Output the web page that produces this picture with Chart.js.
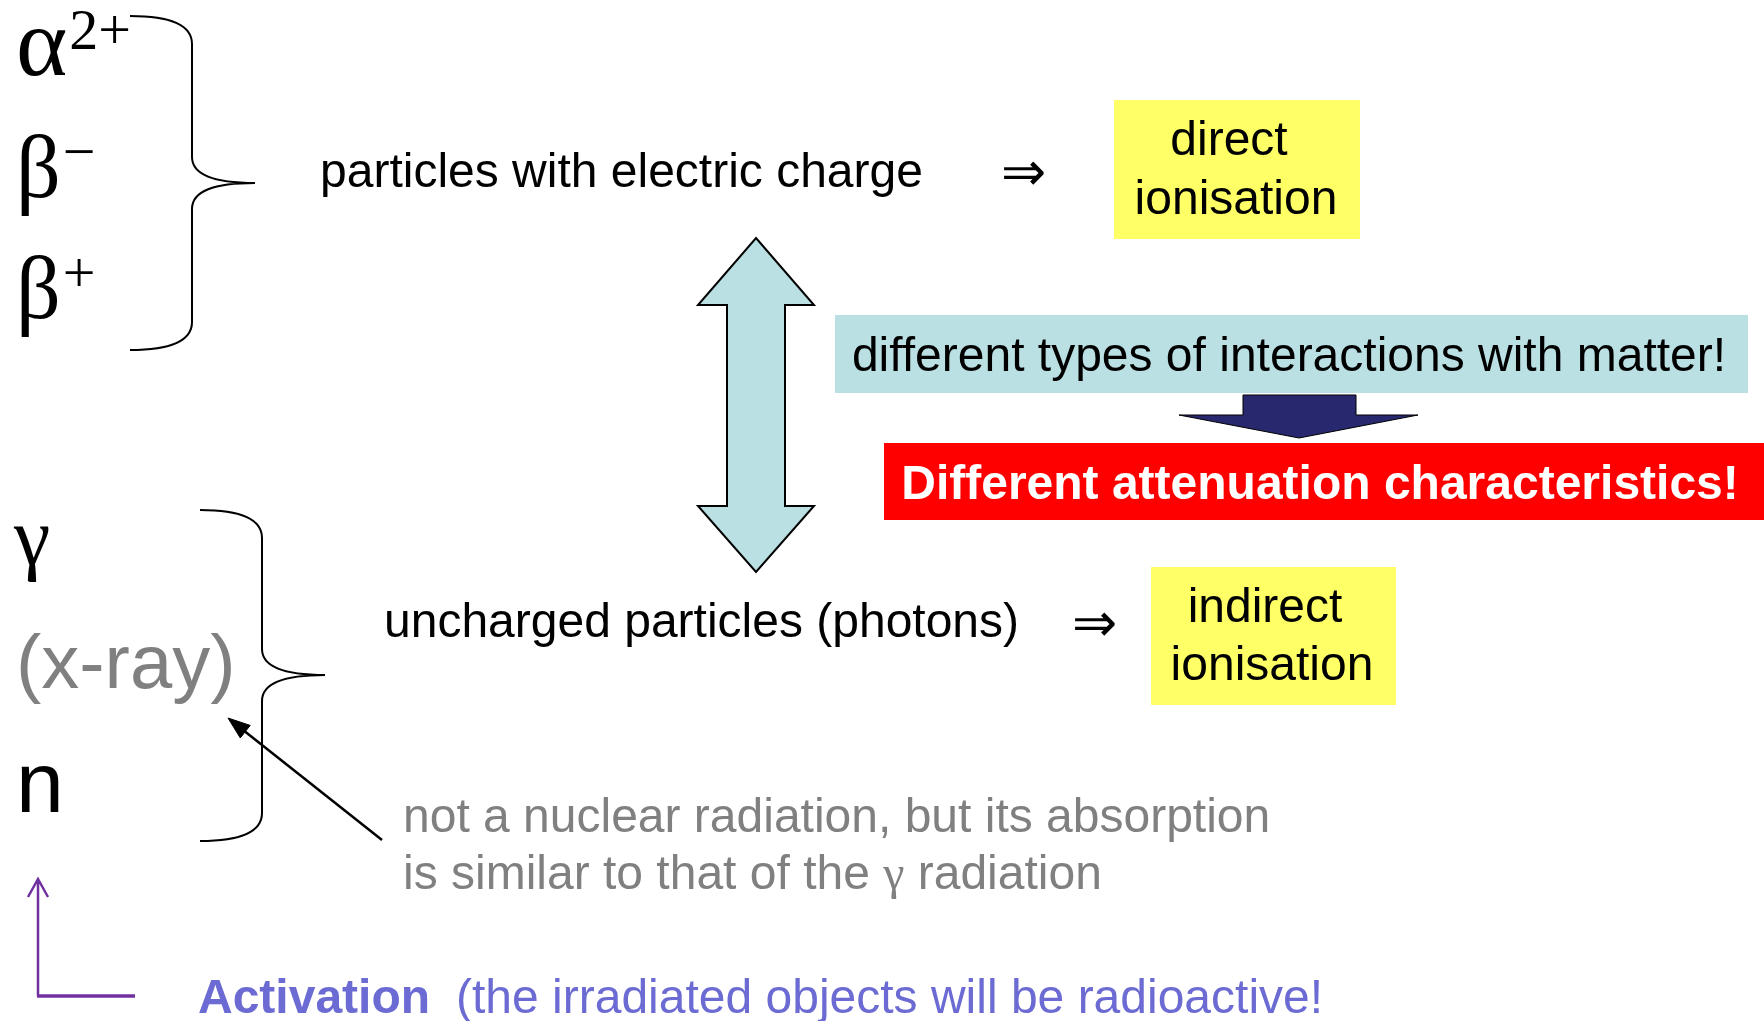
<!DOCTYPE html>
<html>
<head>
<meta charset="utf-8">
<script src="https://cdn.jsdelivr.net/npm/chart.js@4.4.1/dist/chart.umd.min.js"></script>
<style>
  html, body { margin: 0; padding: 0; background: #fff; }
  #wrap { width: 1764px; height: 1021px; }
</style>
</head>
<body>
<div id="wrap"><canvas id="chart" width="1764" height="1021"></canvas></div>
<script>
// texts of the slide
const chargedSymbols = ['α', 'β', 'β'];
const chargedCharges = ['2+', '−', '+'];
const unchargedSymbols = ['γ', '(x-ray)', 'n'];
const groupLabels = ['particles with electric charge', 'uncharged particles (photons)'];
const directLabel = ['direct', 'ionisation'];
const indirectLabel = ['indirect', 'ionisation'];
const interactionNote = 'different types of interactions with matter!';
const attenuationNote = 'Different attenuation characteristics!';
const xrayNote = ['not a nuclear radiation, but its absorption', 'is similar to that of the ', 'γ', ' radiation'];
const activationLabel = 'Activation';
const activationNote = '(the irradiated objects will be radioactive!';

const SANS = '"Liberation Sans", Arial, sans-serif';
const SERIF = '"Liberation Serif", "Times New Roman", serif';

var slidePlugin = {
    id: 'slide',
    afterDraw(chart) {
        const ctx = chart.ctx;
        const sx = chart.scales.x, sy = chart.scales.y;
        const X = v => sx.getPixelForValue(v);
        const Y = v => sy.getPixelForValue(v);

        function text(str, x, y, font, color, align) {
            ctx.font = font;
            ctx.fillStyle = color;
            ctx.textAlign = align || 'left';
            ctx.textBaseline = 'alphabetic';
            ctx.fillText(str, X(x), Y(y));
            return ctx.measureText(str).width;
        }
        function rect(x0, y0, x1, y1, color) {
            ctx.fillStyle = color;
            ctx.fillRect(X(x0), Y(y0), X(x1) - X(x0), Y(y1) - Y(y0));
        }
        function poly(pts, fill, stroke, lw) {
            ctx.beginPath();
            pts.forEach((p, i) => i ? ctx.lineTo(X(p[0]), Y(p[1])) : ctx.moveTo(X(p[0]), Y(p[1])));
            ctx.closePath();
            ctx.fillStyle = fill;
            ctx.fill();
            ctx.lineWidth = lw;
            ctx.strokeStyle = stroke;
            ctx.lineJoin = 'miter';
            ctx.stroke();
        }
        function brace(x0, xm, xt, y0, ym, y1) {
            ctx.beginPath();
            ctx.moveTo(X(x0), Y(y0));
            ctx.bezierCurveTo(X(x0 + (xm - x0) * 0.7), Y(y0), X(xm), Y(y0 + 10), X(xm), Y(y0 + 28));
            ctx.lineTo(X(xm), Y(ym - 26));
            ctx.bezierCurveTo(X(xm), Y(ym - 8), X(xm + (xt - xm) * 0.35), Y(ym), X(xt), Y(ym));
            ctx.bezierCurveTo(X(xm + (xt - xm) * 0.35), Y(ym), X(xm), Y(ym + 8), X(xm), Y(ym + 26));
            ctx.lineTo(X(xm), Y(y1 - 28));
            ctx.bezierCurveTo(X(xm), Y(y1 - 10), X(x0 + (xm - x0) * 0.7), Y(y1), X(x0), Y(y1));
            ctx.lineWidth = 2;
            ctx.strokeStyle = '#000';
            ctx.stroke();
        }

        ctx.save();

        // charged particles
        const gBase = [75, 197, 318];
        const gSize = [98, 88, 88];
        chargedSymbols.forEach((s, i) => {
            const w = text(s, 16, gBase[i], gSize[i] + 'px ' + SERIF, '#000');
            text(chargedCharges[i], 16 + w + 2, gBase[i] - 26, '58px ' + SERIF, '#000');
        });
        brace(130, 192, 255, 16, 183, 350);

        // uncharged
        text(unchargedSymbols[0], 14, 564, '82px ' + SERIF, '#000');
        text(unchargedSymbols[1], 16, 688, '76px ' + SANS, '#808080');
        text(unchargedSymbols[2], 16, 812, '86px ' + SANS, '#000');
        brace(200, 262, 325, 510, 675, 841);

        // group labels and implications
        text(groupLabels[0], 320, 187, '48px ' + SANS, '#000');
        text(groupLabels[1], 384, 637, '48px ' + SANS, '#000');
        text('⇒', 1023, 190, '54px ' + SERIF, '#000', 'center');
        text('⇒', 1094, 641, '54px ' + SERIF, '#000', 'center');

        rect(1114, 100, 1360, 239, '#FFFF66');
        text(directLabel[0], 1229, 155, '48px ' + SANS, '#000', 'center');
        text(directLabel[1], 1236, 214, '48px ' + SANS, '#000', 'center');
        rect(1151, 567, 1396, 705, '#FFFF66');
        text(indirectLabel[0], 1265, 622, '48px ' + SANS, '#000', 'center');
        text(indirectLabel[1], 1272, 680, '48px ' + SANS, '#000', 'center');

        // double arrow
        poly([[756, 238], [814, 305], [785, 305], [785, 506], [814, 506], [756, 572],
              [698, 506], [727, 506], [727, 305], [698, 305]], '#BAE0E3', '#000', 2);

        rect(835, 315, 1748, 393, '#BAE0E3');
        text(interactionNote, 1289, 371, '48px ' + SANS, '#000', 'center');

        poly([[1243, 395], [1356, 395], [1356, 415], [1418, 415], [1299, 438], [1179, 415], [1243, 415]],
             '#28286E', '#000', 1);

        rect(884, 443, 1764, 520, '#FF0000');
        text(attenuationNote, 1320, 499, 'bold 48px ' + SANS, '#fff', 'center');

        // x-ray note and pointer
        text(xrayNote[0], 403, 832, '48px ' + SANS, '#808080');
        let w = text(xrayNote[1], 403, 889, '48px ' + SANS, '#808080');
        w += text(xrayNote[2], 403 + w, 889, '48px ' + SERIF, '#808080');
        text(xrayNote[3], 403 + w, 889, '48px ' + SANS, '#808080');

        ctx.beginPath();
        ctx.moveTo(X(382), Y(840));
        ctx.lineTo(X(238), Y(726));
        ctx.lineWidth = 2.5;
        ctx.strokeStyle = '#000';
        ctx.stroke();
        const ang = Math.atan2(718 - 840, 228 - 382);
        const hl = 22, hw = 8;
        const bx = 228 - hl * Math.cos(ang), by = 718 - hl * Math.sin(ang);
        poly([[228, 718], [bx + hw * Math.sin(ang), by - hw * Math.cos(ang)],
              [bx - hw * Math.sin(ang), by + hw * Math.cos(ang)]], '#000', '#000', 1);

        // activation
        ctx.beginPath();
        ctx.moveTo(X(38), Y(996));
        ctx.lineTo(X(38), Y(879));
        ctx.moveTo(X(28), Y(897));
        ctx.lineTo(X(38), Y(879));
        ctx.lineTo(X(48), Y(897));
        ctx.lineWidth = 2.5;
        ctx.strokeStyle = '#7030A0';
        ctx.lineJoin = 'miter';
        ctx.stroke();
        ctx.beginPath();
        ctx.moveTo(X(37), Y(996));
        ctx.lineTo(X(135), Y(996));
        ctx.lineWidth = 3.5;
        ctx.stroke();

        text(activationLabel, 198, 1013, 'bold 48px ' + SANS, '#6B6BD3');
        text(activationNote, 456, 1013, '48px ' + SANS, '#6B6BD3');

        ctx.restore();
    }
};

var chart = new Chart(document.getElementById('chart'), {
    type: 'scatter',
    data: { datasets: [{ data: [], pointRadius: 0 }] },
    options: {
        responsive: false,
        animation: false,
        devicePixelRatio: 1,
        layout: { padding: 0 },
        scales: {
            x: { type: 'linear', min: 0, max: 1764, display: false },
            y: { type: 'linear', min: 0, max: 1021, reverse: true, display: false }
        },
        plugins: { legend: { display: false }, tooltip: { enabled: false } }
    },
    plugins: [slidePlugin]
});
</script>
</body>
</html>
